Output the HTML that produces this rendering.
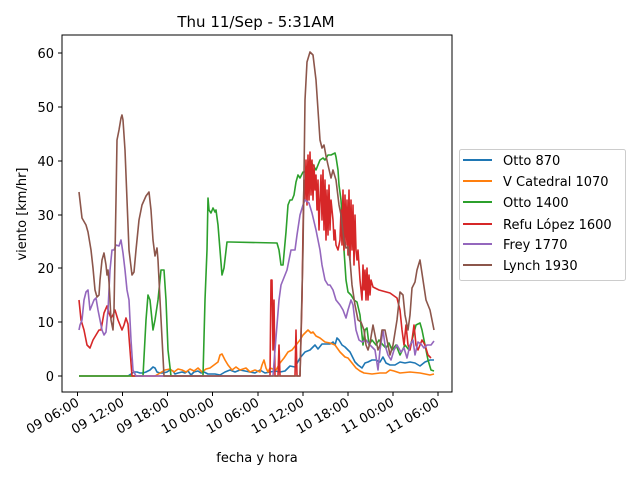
<!DOCTYPE html><html><head><style>body{margin:0;background:#fff}svg{display:block}text{font-family:"DejaVu Sans","Liberation Sans",sans-serif;fill:#000}</style></head><body>
<svg width="640" height="480" xmlns="http://www.w3.org/2000/svg">
<rect width="640" height="480" fill="#fff"/>
<text x="256" y="27" font-size="15" text-anchor="middle">Thu 11/Sep - 5:31AM</text>
<g fill="none" stroke-width="1.6" stroke-linejoin="round">
<polyline stroke="#1f77b4" points="79,376 128,376 131,374 134,372 137,372 140,373 143,373 146,372 148,371 150,370 153,367 155,368 157,372 160,373 163,373 167,372 170,370 173,371 175,374 178,373 182,372 185,373 188,371 191,375 194,372 198,371 201,373 204,372 208,374 215,374 220,375 225,372 230,370 235,372 240,370 245,371 250,372 255,373 260,370 265,373 270,372 275,371 280,372 285,371 290,366 295,367 300,358 305,352 310,350 315,345 318,349 322,344 330,344 333,342 335,345 337,338 339,340 342,345 345,347 350,352 355,362 358,365 362,368 365,363 368,362 372,360 376,360 380,362 383,357 386,363 390,365 395,365 400,362 405,363 410,362 415,363 420,366 425,362 430,360 434,360"/>
<polyline stroke="#ff7f0e" points="79,376 155,376 160,373 165,370 170,369 174,372 178,369 182,370 186,372 190,369 194,371 198,368 202,372 206,369 210,368 214,365 218,362 220,355 222,354 225,360 228,365 232,370 236,367 240,370 246,368 250,372 255,370 260,372 262,365 264,360 266,368 268,372 270,368 276,370 280,363 284,358 288,352 292,350 296,345 300,340 303,335 306,332 308,330 311,333 313,332 316,336 320,338 325,342 330,343 335,345 340,352 345,357 348,358 352,363 356,368 360,371 364,373 372,374 380,373 386,373 390,370 394,371 400,373 410,372 420,373 425,374 430,375 434,374"/>
<polyline stroke="#2ca02c" points="79,376 143,376 146,320 148,295 150,300 153,330 155,320 158,300 161,270 164,270 166,300 168,350 171,376 203,376 205,300 207,250 208,198 209,210 211,213 213,208 215,212 216,210 218,225 220,250 222,275 224,268 227,242 230,242 277,243 279,250 281,265 283,265 286,232 288,205 290,200 292,200 294,195 296,182 298,175 300,178 303,172 305,172 310,160 316,170 320,160 323,158 325,160 328,155 331,155 335,153 336,157 338,170 339,185 341,200 344,250 346,280 348,292 351,295 354,300 357,302 360,315 363,345 365,330 367,328 369,345 372,340 376,345 379,340 383,345 386,348 389,343 392,350 396,345 400,355 405,345 409,350 412,340 416,325 420,323 422,330 425,345 428,360 431,370 434,371"/>
<polyline stroke="#d62728" points="79,300 81,320 84,330 87,345 90,348 93,340 96,335 99,330 101,330 104,313 107,306 109,313 111,318 113,315 115,310 118,320 120,325 122,330 124,325 126,318 128,324 130,350 132,376 270,376 271,280 272,280 273,350 274,300 275,376 278,376 279,345 280,376 295,376 296,330 297,376 300,376 302,300 303,230 304,180 305,200 306,160 307,205 308,155 309,200 310,152 311,195 312,160 313,200 314,165 315,190 316,175 317,210 318,180 319,230 320,200 321,175 322,220 323,170 324,230 325,180 326,240 327,190 328,235 329,185 330,230 331,200 332,210 333,220 334,240 335,230 336,245 338,250 340,240 341,210 342,245 343,190 344,250 345,195 346,245 347,200 348,255 349,190 350,260 351,200 352,250 353,205 354,265 355,215 356,250 357,260 358,250 360,280 362,300 363,265 364,290 365,270 366,300 367,268 368,300 369,275 370,295 371,280 373,287 379,290 390,293 397,298 400,310 402,330 404,345 406,325 408,345 410,350 412,340 414,325 416,345 418,350 422,340 425,345 428,355 431,358"/>
<polyline stroke="#9467bd" points="79,330 80,325 82,320 84,300 86,292 88,290 90,310 92,305 94,300 96,298 98,310 100,320 102,330 104,335 106,332 108,310 110,270 112,250 114,250 116,245 119,246 121,240 123,253 125,270 127,290 129,300 131,340 133,370 136,376 273,376 275,350 277,325 279,300 281,285 283,280 287,270 291,250 295,250 297,235 300,215 303,205 305,200 309,203 312,213 316,230 320,250 322,265 325,280 328,285 330,285 333,290 336,300 340,305 343,310 346,318 348,310 351,300 353,305 356,330 359,340 362,342 366,340 370,345 373,348 375,350 378,370 380,350 383,330 385,345 388,355 391,360 394,350 397,345 401,352 404,348 407,358 410,345 413,340 415,355 418,342 421,344 424,348 427,345 431,345 434,341"/>
<polyline stroke="#8c564b" points="79,192 82,218 86,225 88,232 91,250 93,268 95,290 97,297 99,295 100,280 102,260 104,253 106,265 107,275 108,270 109,282 110,300 111,320 113,330 114,310 116,200 117,140 119,130 121,118 122,115 123,120 125,150 127,200 129,250 132,275 134,272 136,250 139,220 142,205 146,196 149,192 151,210 153,240 155,256 157,248 158,260 160,300 164,376 300,376 303,250 305,100 307,62 310,52 313,55 316,80 318,110 320,140 322,148 324,145 326,156 328,165 331,178 333,170 336,180 339,205 341,215 344,240 346,248 348,247 350,260 352,285 355,305 358,320 361,322 364,330 366,345 368,350 370,343 373,325 375,335 378,350 380,345 382,330 385,330 388,345 390,355 393,345 397,320 400,292 403,295 405,315 408,330 410,315 412,288 415,282 417,270 420,260 423,280 426,300 430,310 434,330"/>
</g>
<rect x="62" y="35" width="390" height="357" fill="none" stroke="#000" stroke-width="1"/>
<g stroke="#000" stroke-width="1">
<line x1="58" y1="376" x2="62" y2="376"/><line x1="58" y1="322" x2="62" y2="322"/><line x1="58" y1="268" x2="62" y2="268"/><line x1="58" y1="215" x2="62" y2="215"/><line x1="58" y1="161" x2="62" y2="161"/><line x1="58" y1="107" x2="62" y2="107"/><line x1="58" y1="53" x2="62" y2="53"/>
<line x1="77.5" y1="392" x2="77.5" y2="396"/><line x1="122.5" y1="392" x2="122.5" y2="396"/><line x1="167.5" y1="392" x2="167.5" y2="396"/><line x1="212.5" y1="392" x2="212.5" y2="396"/><line x1="258" y1="392" x2="258" y2="396"/><line x1="303" y1="392" x2="303" y2="396"/><line x1="348" y1="392" x2="348" y2="396"/><line x1="393" y1="392" x2="393" y2="396"/><line x1="438" y1="392" x2="438" y2="396"/>
</g>
<g font-size="13" text-anchor="end">
<text x="54" y="381">0</text><text x="54" y="327">10</text><text x="54" y="273">20</text><text x="54" y="220">30</text><text x="54" y="166">40</text><text x="54" y="112">50</text><text x="54" y="58">60</text>
<text transform="translate(80,405) rotate(-30)">09 06:00</text>
<text transform="translate(125,405) rotate(-30)">09 12:00</text>
<text transform="translate(170,405) rotate(-30)">09 18:00</text>
<text transform="translate(215,405) rotate(-30)">10 00:00</text>
<text transform="translate(260,405) rotate(-30)">10 06:00</text>
<text transform="translate(305,405) rotate(-30)">10 12:00</text>
<text transform="translate(350,405) rotate(-30)">10 18:00</text>
<text transform="translate(395,405) rotate(-30)">11 00:00</text>
<text transform="translate(440,405) rotate(-30)">11 06:00</text>
</g>
<text x="257" y="462" font-size="13" text-anchor="middle">fecha y hora</text>
<text transform="translate(26,214) rotate(-90)" font-size="13" text-anchor="middle">viento [km/hr]</text>
<rect x="459.5" y="149.5" width="166" height="131" rx="2" fill="#fff" stroke="#ccc"/>
<g stroke-width="2">
<line x1="463" y1="160" x2="492" y2="160" stroke="#1f77b4"/>
<line x1="463" y1="181" x2="492" y2="181" stroke="#ff7f0e"/>
<line x1="463" y1="202" x2="492" y2="202" stroke="#2ca02c"/>
<line x1="463" y1="224" x2="492" y2="224" stroke="#d62728"/>
<line x1="463" y1="244" x2="492" y2="244" stroke="#9467bd"/>
<line x1="463" y1="265" x2="492" y2="265" stroke="#8c564b"/>
</g>
<g font-size="13">
<text x="503" y="165">Otto 870</text><text x="503" y="186">V Catedral 1070</text><text x="503" y="207">Otto 1400</text><text x="503" y="229">Refu López 1600</text><text x="503" y="249">Frey 1770</text><text x="503" y="270">Lynch 1930</text>
</g>
</svg>
</body></html>
